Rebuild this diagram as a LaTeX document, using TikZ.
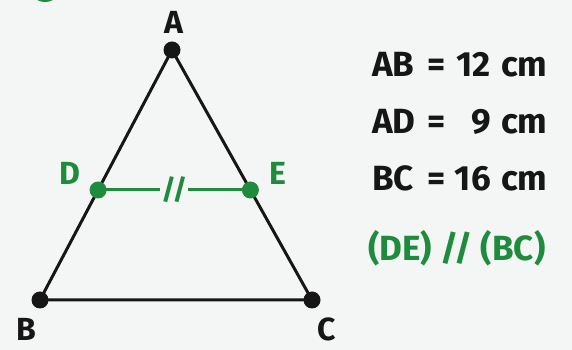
\documentclass[tikz,border=0pt]{standalone}
\usepackage{fontspec}
\setmainfont{Fira Sans}
\usetikzlibrary{positioning,calc}
\definecolor{geogreen}{RGB}{30,140,60}
\definecolor{paper}{RGB}{243,246,245}
\definecolor{ink}{RGB}{22,22,22}

\begin{document}
\begin{tikzpicture}[x=1pt, y=1pt, font=\fontsize{35}{38}\selectfont\bfseries,
  vertex/.style={circle, fill=ink, inner sep=0pt, minimum size=17pt},
  gvertex/.style={vertex, fill=geogreen},
  ptlabel/.style={text=ink, inner sep=0pt, font=\fontsize{32}{34}\selectfont\bfseries},
  side/.style={draw=ink, line width=3pt},
  info/.style={text=ink, inner sep=0pt, anchor=base west}]
  \fill[paper] (0,0) rectangle (572,350);
  \useasboundingbox (0,0) rectangle (572,350);
  % cut-off badge at the top edge
  \begin{scope}
    \clip (0,0) rectangle (572,350);
    \fill[geogreen] (45,364) circle (16);
  \end{scope}

  \coordinate (A) at (172,300);
  \coordinate (B) at (40,50);
  \coordinate (C) at (312,50);
  \coordinate (D) at ($(A)!0.56!(B)$);
  \coordinate (E) at ($(A)!0.56!(C)$);

  \draw[side, line join=round] (B) -- (A) -- (C) -- cycle;
  \draw[draw=geogreen, line width=3pt] (D) --
    node (tick) [fill=paper, text=geogreen, inner sep=1pt,
      font=\fontsize{28}{30}\selectfont\bfseries] {//} (E);

  \node (dotA) [vertex] at (A) {};
  \node (dotB) [vertex] at (B) {};
  \node (dotC) [vertex] at (C) {};
  \node (dotD) [gvertex] at (D) {};
  \node (dotE) [gvertex] at (E) {};

  \node (labA) [ptlabel] at (174,328) {A};
  \node (labB) [ptlabel] at (26,21) {B};
  \node (labC) [ptlabel] at (327,21) {C};
  \node (labD) [ptlabel, text=geogreen] at (70,177) {D};
  \node (labE) [ptlabel, text=geogreen] at (278,177) {E};

  % given lengths
  \foreach \seg/\len/\yy in {AB/12/273, AD/9/216, BC/16/159} {
    \node (name-\seg) [info] at (372,\yy) {\seg};
    \node (eq-\seg) [info] at (427,\yy) {=};
    \node (len-\seg) [info, anchor=base east] at (491,\yy) {\len};
    \node (unit-\seg) [info] at (501,\yy) {cm};
  }
  \node (parallel) [info, text=geogreen] at (368,89) {(DE) // (BC)};
\end{tikzpicture}
\end{document}
